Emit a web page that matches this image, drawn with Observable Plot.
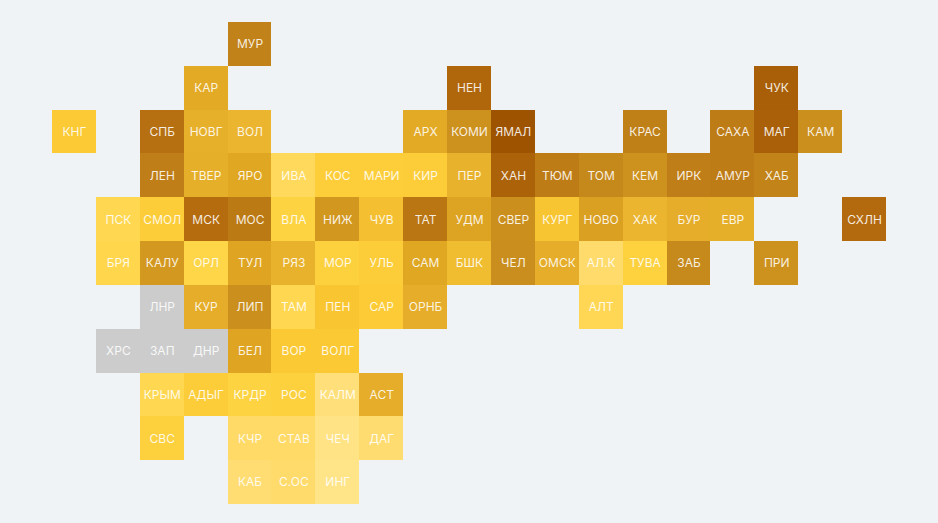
<!DOCTYPE html>
<html lang="ru">
<head>
<meta charset="utf-8">
<script src="https://cdn.jsdelivr.net/npm/d3@7"></script>
<script src="https://cdn.jsdelivr.net/npm/@observablehq/plot@0.6"></script>
<style>
html,body{margin:0;padding:0;background:#eff3f5;overflow:hidden}
svg{display:block}
</style>
</head>
<body>
<div id="chart"></div>
<script>
// Each row lists its grid columns left to right; "" is an empty tile position.
const names0  = ["","","","","МУР"];
const names1  = ["","","","КАР","","","","","","НЕН","","","","","","","ЧУК"];
const names2  = ["КНГ","","СПБ","НОВГ","ВОЛ","","","","АРХ","КОМИ","ЯМАЛ","","","КРАС","","САХА","МАГ","КАМ"];
const names3  = ["","","ЛЕН","ТВЕР","ЯРО","ИВА","КОС","МАРИ","КИР","ПЕР","ХАН","ТЮМ","ТОМ","КЕМ","ИРК","АМУР","ХАБ"];
const names4  = ["","ПСК","СМОЛ","МСК","МОС","ВЛА","НИЖ","ЧУВ","ТАТ","УДМ","СВЕР","КУРГ","НОВО","ХАК","БУР","ЕВР","","","СХЛН"];
const names5  = ["","БРЯ","КАЛУ","ОРЛ","ТУЛ","РЯЗ","МОР","УЛЬ","САМ","БШК","ЧЕЛ","ОМСК","АЛ.К","ТУВА","ЗАБ","","ПРИ"];
const names6  = ["","","ЛНР","КУР","ЛИП","ТАМ","ПЕН","САР","ОРНБ","","","","АЛТ"];
const names7  = ["","ХРС","ЗАП","ДНР","БЕЛ","ВОР","ВОЛГ"];
const names8  = ["","","КРЫМ","АДЫГ","КРДР","РОС","КАЛМ","АСТ"];
const names9  = ["","","СВС","","КЧР","СТАВ","ЧЕЧ","ДАГ"];
const names10 = ["","","","","КАБ","С.ОС","ИНГ"];

// Estimated index for each tile; null means no data (grey tile).
const values0  = [0,0,0,0,74];
const values1  = [0,0,0,52,0,0,0,0,0,88,0,0,0,0,0,0,93];
const values2  = [29,0,83,48,45,0,0,0,52,66,100,0,0,75,0,77,92,67];
const values3  = [0,0,76,49,54,14,26,26,27,47,91,77,71,66,76,77,73];
const values4  = [0,17,27,85,78,22,63,37,80,56,67,33,58,45,50,49,0,0,86];
const values5  = [0,18,62,19,55,47,24,27,54,40,68,50,10,23,70,0,66];
const values6  = [0,0,null,50,67,17,32,28,50,0,0,0,16];
const values7  = [0,null,null,null,55,30,30];
const values8  = [0,0,17,27,22,24,6,50];
const values9  = [0,0,24,0,11,11,3,9];
const values10 = [0,0,0,0,8,10,2];

const colorStops  = [0, 10, 20, 30, 45, 55, 70, 85, 100];
const colorRamp   = ["#ffe68f", "#ffdb6b", "#ffd544", "#fbc933", "#ebb52f", "#dfa522", "#c68a1c", "#b46c0f", "#9e5300"];

const nameRows  = [names0,names1,names2,names3,names4,names5,names6,names7,names8,names9,names10];
const valueRows = [values0,values1,values2,values3,values4,values5,values6,values7,values8,values9,values10];

const tiles = nameRows.flatMap((names, row) =>
  names.map((name, col) => ({name, col, row, value: valueRows[row][col]}))
).filter(d => d.name !== "");

const chart = Plot.plot({
  width: 938,
  height: 523,
  marginLeft: 52,
  marginRight: 52,
  marginTop: 22,
  marginBottom: 19,
  style: {background: "transparent"},
  x: {type: "band", domain: d3.range(19), axis: null, padding: 0, round: false},
  y: {type: "band", domain: d3.range(11), axis: null, padding: 0, round: false},
  color: {type: "linear", domain: colorStops, range: colorRamp, unknown: "#cccccc"},
  marks: [
    Plot.cell(tiles, {x: "col", y: "row", fill: "value", shapeRendering: "crispEdges"}),
    Plot.text(tiles, {
      x: "col", y: "row", text: "name",
      fill: "#fff", fillOpacity: 0.88,
      fontFamily: "Inter, sans-serif", fontSize: 12, fontWeight: 400
    })
  ]
});
document.getElementById("chart").append(chart);
</script>
</body>
</html>
